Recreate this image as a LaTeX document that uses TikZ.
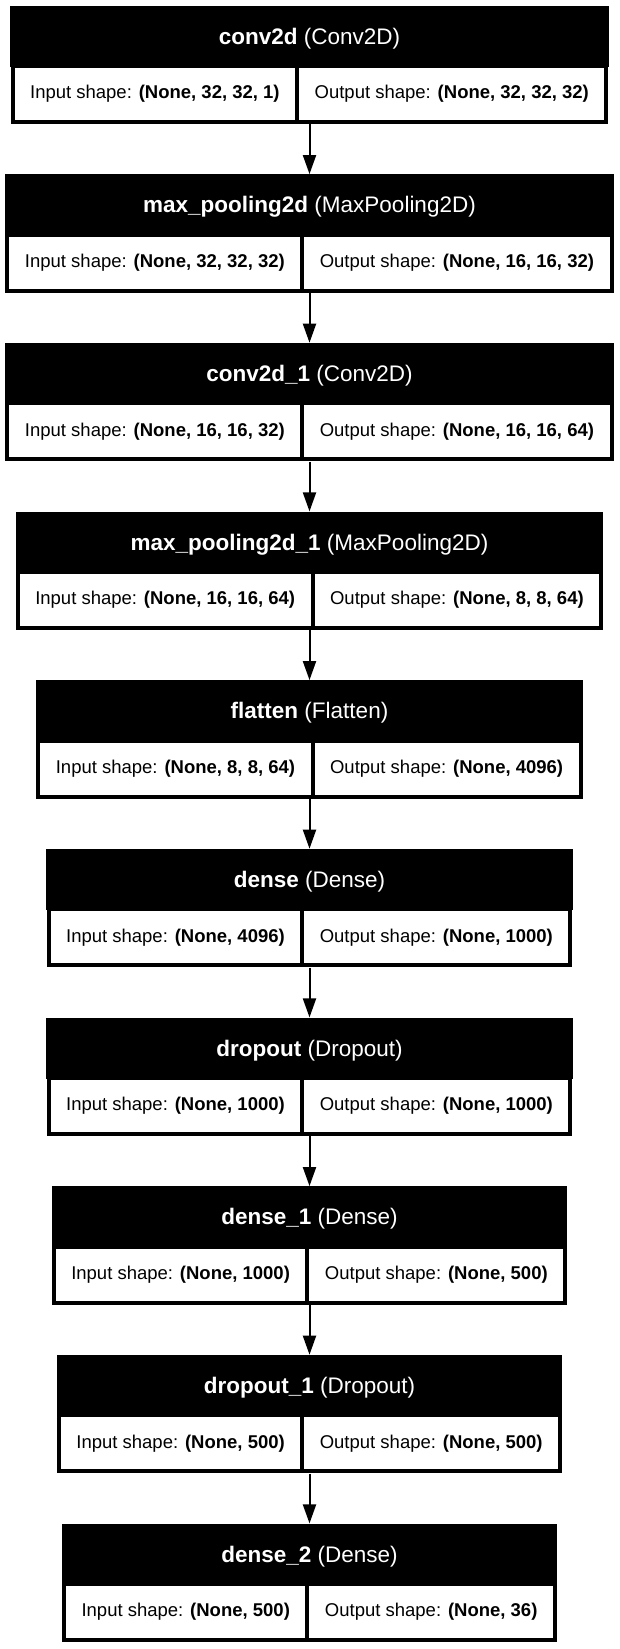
\documentclass[tikz,border=0pt]{standalone}
\usepackage{fontspec}
\setmainfont{Liberation Sans}
\usetikzlibrary{matrix,calc,arrows.meta}

\begin{document}
\begin{tikzpicture}[x=1pt,y=-1pt]
\edef\cellheight{52pt}
\tikzstyle{shapecell}=[fill=white,minimum height=\cellheight,inner xsep=15.5pt,inner ysep=0pt,
  font=\fontsize{18.5}{22}\selectfont]
\tikzstyle{shaperow}=[matrix of nodes,fill=black,inner sep=4pt,column sep=4pt,nodes={shapecell}]
\tikzstyle{layername}=[fill=black,text=white,inner sep=0pt,minimum height=61pt,anchor=south,
  yshift=-3pt,text height=21pt,text depth=5pt,font=\fontsize{22.5}{27}\selectfont]
\tikzstyle{flow}=[line width=2pt,-{Triangle[length=19pt,width=13pt]}]

\useasboundingbox (0,0) rectangle (619,1649);

%% conv2d
\matrix[shaperow] (m1) at (309.5,94) {Input shape: \textbf{(None, 32, 32, 1)} & Output shape: \textbf{(None, 32, 32, 32)}\\};
\path let \p1=(m1.west), \p2=(m1.east) in
  node[layername,minimum width=\x2-\x1] (t1) at (m1.north) {\textbf{conv2d} (Conv2D)};

%% max_pooling2d
\matrix[shaperow] (m2) at (309.5,262.7) {Input shape: \textbf{(None, 32, 32, 32)} & Output shape: \textbf{(None, 16, 16, 32)}\\};
\path let \p1=(m2.west), \p2=(m2.east) in
  node[layername,minimum width=\x2-\x1] (t2) at (m2.north) {\textbf{max\_pooling2d} (MaxPooling2D)};

%% conv2d_1
\matrix[shaperow] (m3) at (309.5,431.3) {Input shape: \textbf{(None, 16, 16, 32)} & Output shape: \textbf{(None, 16, 16, 64)}\\};
\path let \p1=(m3.west), \p2=(m3.east) in
  node[layername,minimum width=\x2-\x1] (t3) at (m3.north) {\textbf{conv2d\_1} (Conv2D)};

%% max_pooling2d_1
\matrix[shaperow] (m4) at (309.5,600) {Input shape: \textbf{(None, 16, 16, 64)} & Output shape: \textbf{(None, 8, 8, 64)}\\};
\path let \p1=(m4.west), \p2=(m4.east) in
  node[layername,minimum width=\x2-\x1] (t4) at (m4.north) {\textbf{max\_pooling2d\_1} (MaxPooling2D)};

%% flatten
\matrix[shaperow] (m5) at (309.5,768.7) {Input shape: \textbf{(None, 8, 8, 64)} & Output shape: \textbf{(None, 4096)}\\};
\path let \p1=(m5.west), \p2=(m5.east) in
  node[layername,minimum width=\x2-\x1] (t5) at (m5.north) {\textbf{flatten} (Flatten)};

%% dense
\matrix[shaperow] (m6) at (309.5,937.3) {Input shape: \textbf{(None, 4096)} & Output shape: \textbf{(None, 1000)}\\};
\path let \p1=(m6.west), \p2=(m6.east) in
  node[layername,minimum width=\x2-\x1] (t6) at (m6.north) {\textbf{dense} (Dense)};

%% dropout
\matrix[shaperow] (m7) at (309.5,1106) {Input shape: \textbf{(None, 1000)} & Output shape: \textbf{(None, 1000)}\\};
\path let \p1=(m7.west), \p2=(m7.east) in
  node[layername,minimum width=\x2-\x1] (t7) at (m7.north) {\textbf{dropout} (Dropout)};

%% dense_1
\matrix[shaperow] (m8) at (309.5,1274.7) {Input shape: \textbf{(None, 1000)} & Output shape: \textbf{(None, 500)}\\};
\path let \p1=(m8.west), \p2=(m8.east) in
  node[layername,minimum width=\x2-\x1] (t8) at (m8.north) {\textbf{dense\_1} (Dense)};

%% dropout_1
\matrix[shaperow] (m9) at (309.5,1443.3) {Input shape: \textbf{(None, 500)} & Output shape: \textbf{(None, 500)}\\};
\path let \p1=(m9.west), \p2=(m9.east) in
  node[layername,minimum width=\x2-\x1] (t9) at (m9.north) {\textbf{dropout\_1} (Dropout)};

%% dense_2
\matrix[shaperow] (m10) at (309.5,1612) {Input shape: \textbf{(None, 500)} & Output shape: \textbf{(None, 36)}\\};
\path let \p1=(m10.west), \p2=(m10.east) in
  node[layername,minimum width=\x2-\x1] (t10) at (m10.north) {\textbf{dense\_2} (Dense)};

%% Arrows between layers
\draw[flow] (m1.south) -- (t2.north);
\draw[flow] (m2.south) -- (t3.north);
\draw[flow] (m3.south) -- (t4.north);
\draw[flow] (m4.south) -- (t5.north);
\draw[flow] (m5.south) -- (t6.north);
\draw[flow] (m6.south) -- (t7.north);
\draw[flow] (m7.south) -- (t8.north);
\draw[flow] (m8.south) -- (t9.north);
\draw[flow] (m9.south) -- (t10.north);
\end{tikzpicture}
\end{document}
